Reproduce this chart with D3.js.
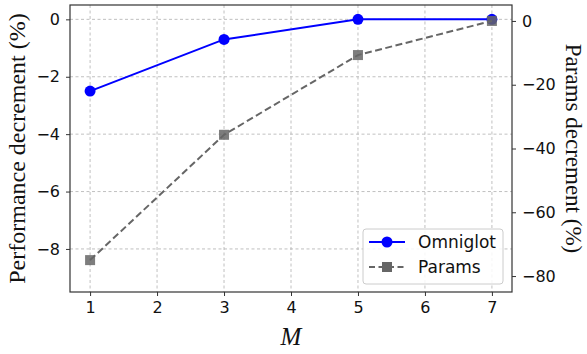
<!DOCTYPE html>
<html>
<head>
    <meta charset="UTF-8">
    <title>Performance vs Params decrement</title>
    <style>
        body { margin: 0; background: #fff; }
        svg { display: block; }
    </style>
</head>
<body>
    <script src="https://d3js.org/d3.v7.min.js"></script>
    <svg width="587" height="354"></svg>

    <script>
        let svg = d3.select("svg");

        // values
        let m_values = [1, 3, 5, 7];
        let omniglot = [-2.5, -0.7, 0, 0];
        let params = [-75, -35.7, -10.7, 0];
        let x_ticks = [1, 2, 3, 4, 5, 6, 7];
        let left_ticks = [0, -2, -4, -6, -8];
        let right_ticks = [0, -20, -40, -60, -80];

        // plot box
        let box = { left: 70, right: 512, top: 5, bottom: 292 };

        let x = d3.scaleLinear().domain([0.7, 7.3]).range([box.left, box.right]);
        let y_left = d3.scaleLinear().domain([-9.5, 0.5]).range([box.bottom, box.top]);
        let y_right = d3.scaleLinear().domain([-85, 5]).range([box.bottom, box.top]);

        let minus = d => d3.format("d")(d).replace("-", "\u2212");
        let tick_font = "'DejaVu Sans', sans-serif";
        let serif = "'Liberation Serif', 'Times New Roman', serif";

        // grid lines (x ticks and left axis only)
        let grid = svg.append("g")
            .attr("stroke", "#b0b0b0")
            .attr("stroke-width", 0.8)
            .attr("stroke-dasharray", "3,2.5");
        grid.selectAll(".gx").data(x_ticks).enter().append("line")
            .attr("x1", d => x(d)).attr("x2", d => x(d))
            .attr("y1", box.top).attr("y2", box.bottom);
        grid.selectAll(".gy").data(left_ticks).enter().append("line")
            .attr("x1", box.left).attr("x2", box.right)
            .attr("y1", d => y_left(d)).attr("y2", d => y_left(d));

        // axes
        let x_axis = svg.append("g")
            .attr("transform", `translate(0,${box.bottom})`)
            .call(d3.axisBottom(x).tickValues(x_ticks).tickSize(4).tickPadding(6).tickFormat(d3.format("d")));
        let l_axis = svg.append("g")
            .attr("transform", `translate(${box.left},0)`)
            .call(d3.axisLeft(y_left).tickValues(left_ticks).tickSize(4).tickPadding(6).tickFormat(minus));
        let r_axis = svg.append("g")
            .attr("transform", `translate(${box.right},0)`)
            .call(d3.axisRight(y_right).tickValues(right_ticks).tickSize(4).tickPadding(6).tickFormat(minus));

        [x_axis, l_axis, r_axis].forEach(a => {
            a.select(".domain").remove();
            a.selectAll("line").attr("stroke", "#333").attr("stroke-width", 1);
            a.selectAll("text")
                .attr("font-family", tick_font)
                .attr("font-size", 16)
                .attr("fill", "#111");
        });

        // frame
        svg.append("rect")
            .attr("x", box.left).attr("y", box.top)
            .attr("width", box.right - box.left).attr("height", box.bottom - box.top)
            .attr("fill", "none")
            .attr("stroke", "#333")
            .attr("stroke-width", 1.2);

        // Omniglot line
        let line_left = d3.line().x((d, i) => x(m_values[i])).y(d => y_left(d));
        svg.append("path")
            .datum(omniglot)
            .attr("d", line_left)
            .attr("fill", "none")
            .attr("stroke", "#0000ff")
            .attr("stroke-width", 2);
        svg.selectAll(".dot").data(omniglot).enter().append("circle")
            .attr("cx", (d, i) => x(m_values[i]))
            .attr("cy", d => y_left(d))
            .attr("r", 5.5)
            .attr("fill", "#0000ff");

        // Params line
        let line_right = d3.line().x((d, i) => x(m_values[i])).y(d => y_right(d));
        svg.append("path")
            .datum(params)
            .attr("d", line_right)
            .attr("fill", "none")
            .attr("stroke", "#666")
            .attr("stroke-width", 2)
            .attr("stroke-dasharray", "7,3.5");
        svg.selectAll(".sq").data(params).enter().append("rect")
            .attr("x", (d, i) => x(m_values[i]) - 5)
            .attr("y", d => y_right(d) - 5)
            .attr("width", 10).attr("height", 10)
            .attr("fill", "#666")
            .attr("fill-opacity", 0.85);

        // axis titles
        let mid_y = (box.top + box.bottom) / 2;
        svg.append("text")
            .attr("transform", `translate(17,${mid_y}) rotate(-90)`)
            .attr("text-anchor", "middle")
            .attr("dominant-baseline", "central")
            .attr("font-family", serif)
            .attr("font-size", 24)
            .attr("fill", "#111")
            .text("Performance decrement (%)");
        svg.append("text")
            .attr("transform", `translate(573,${mid_y}) rotate(90)`)
            .attr("text-anchor", "middle")
            .attr("dominant-baseline", "central")
            .attr("font-family", serif)
            .attr("font-size", 23)
            .attr("fill", "#111")
            .text("Params decrement (%)");
        svg.append("text")
            .attr("x", (box.left + box.right) / 2)
            .attr("y", 345)
            .attr("text-anchor", "middle")
            .attr("font-family", serif)
            .attr("font-style", "italic")
            .attr("font-size", 25)
            .attr("fill", "#111")
            .text("M");

        // legend
        let legend = svg.append("g").attr("transform", "translate(363,229)");
        legend.append("rect")
            .attr("width", 140).attr("height", 55)
            .attr("rx", 3)
            .attr("fill", "#fff").attr("fill-opacity", 0.85)
            .attr("stroke", "#ccc");
        let entries = [
            { name: "Omniglot", color: "#0000ff", dash: null, shape: "circle", ly: 13 },
            { name: "Params", color: "#666", dash: "6,3.5", shape: "square", ly: 38 }
        ];
        entries.forEach(e => {
            legend.append("line")
                .attr("x1", 6).attr("x2", 42)
                .attr("y1", e.ly).attr("y2", e.ly)
                .attr("stroke", e.color)
                .attr("stroke-width", 2)
                .attr("stroke-dasharray", e.dash);
            if (e.shape === "circle") {
                legend.append("circle").attr("cx", 24).attr("cy", e.ly).attr("r", 5.5).attr("fill", e.color);
            } else {
                legend.append("rect").attr("x", 19).attr("y", e.ly - 5).attr("width", 10).attr("height", 10).attr("fill", e.color);
            }
            legend.append("text")
                .attr("x", 55).attr("y", e.ly)
                .attr("dominant-baseline", "central")
                .attr("font-family", tick_font)
                .attr("font-size", 17)
                .attr("fill", "#111")
                .text(e.name);
        });
    </script>
</body>
</html>
